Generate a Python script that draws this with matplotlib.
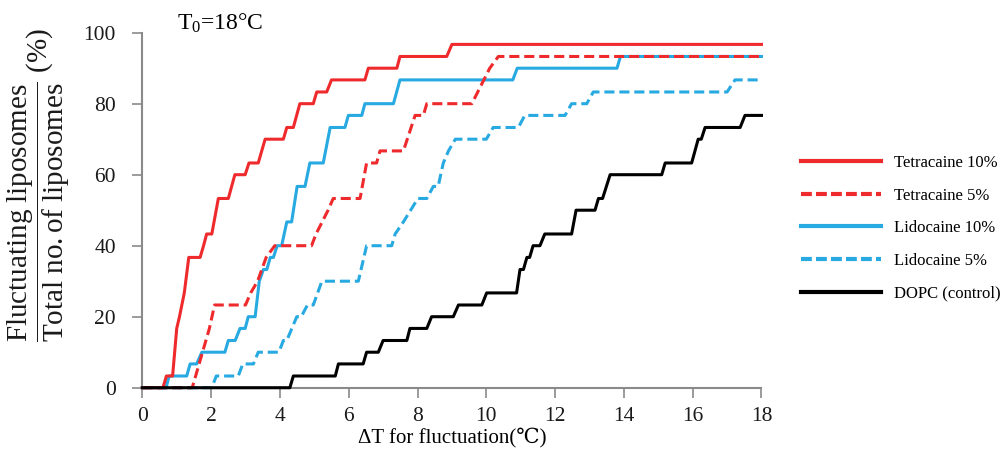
import matplotlib
matplotlib.use('Agg')
import matplotlib.pyplot as plt
from matplotlib.lines import Line2D

plt.rcParams['font.family'] = ['Liberation Serif', 'DejaVu Serif']
plt.rcParams['mathtext.fontset'] = 'custom'
plt.rcParams['mathtext.rm'] = 'Liberation Serif'
plt.rcParams['mathtext.it'] = 'Liberation Serif:italic'

# Cumulative share of fluctuating liposomes (%) vs dT (C), corner points
tet10_x = [0, 0.6, 0.7, 0.88, 1.0, 1.08, 1.22, 1.35, 1.68, 1.78, 1.87, 2.02, 2.21, 2.5, 2.69, 2.99, 3.1,
           3.37, 3.57, 4.1, 4.2, 4.39, 4.58, 4.97, 5.07, 5.36, 5.5, 6.47, 6.57, 7.4, 7.49, 8.85, 9.0, 18]
tet10_y = [0, 0, 3.3, 3.3, 16.7, 20, 26.7, 36.7, 36.7, 40, 43.3, 43.3, 53.3, 53.3, 60, 60, 63.3,
           63.3, 70, 70, 73.3, 73.3, 80, 80, 83.3, 83.3, 86.7, 86.7, 90, 90, 93.3, 93.3, 96.7, 96.7]

tet5_x = [0, 1.45, 1.55, 1.75, 1.95, 2.1, 3.0, 3.15, 3.35, 3.6, 3.85, 4.92, 5.05, 5.4, 5.55, 6.33, 6.52,
          6.81, 6.91, 7.59, 7.93, 8.17, 8.27, 9.58, 10.1, 10.35, 18]
tet5_y = [0, 0, 3.3, 10, 16.7, 23.3, 23.3, 26.7, 30, 36.7, 40, 40, 43.3, 50, 53.3, 53.3, 63.3,
          63.3, 66.7, 66.7, 76.7, 76.7, 80, 80, 90, 93.3, 93.3]

lido10_x = [0, 0.69, 0.78, 1.29, 1.39, 1.58, 1.73, 2.4, 2.5, 2.7, 2.84, 2.99, 3.08, 3.28, 3.4, 3.52, 3.62,
            3.72, 3.81, 3.92, 4.05, 4.2, 4.34, 4.5, 4.73, 4.87, 5.26, 5.46, 5.89, 5.99, 6.38, 6.47, 7.3,
            7.49, 10.77, 10.9, 13.8, 13.9, 18]
lido10_y = [0, 0, 3.3, 3.3, 6.7, 6.7, 10, 10, 13.3, 13.3, 16.7, 16.7, 20, 20, 30, 33.3, 33.3,
            36.7, 36.7, 40, 40, 46.7, 46.7, 56.7, 56.7, 63.3, 63.3, 73.3, 73.3, 76.7, 76.7, 80, 80,
            86.7, 86.7, 90, 90, 93.3, 93.3]

lido5_x = [0, 2.02, 2.15, 2.79, 2.92, 3.23, 3.37, 3.97, 4.1, 4.2, 4.49, 4.62, 4.8, 4.97, 5.22, 6.28, 6.52,
           7.25, 7.35, 7.59, 8.01, 8.27, 8.46, 8.6, 8.75, 8.9, 9.1, 10.0, 10.2, 10.93, 11.12, 12.29, 12.48,
           12.92, 13.11, 17.0, 17.23, 18]
lido5_y = [0, 0, 3.3, 3.3, 6.7, 6.7, 10, 10, 13.3, 13.3, 20, 20, 23.3, 23.3, 30, 30, 40,
           40, 43.3, 46.7, 53.3, 53.3, 56.7, 56.7, 63.3, 66.7, 70, 70, 73.3, 73.3, 76.7, 76.7, 80,
           80, 83.3, 83.3, 86.7, 86.7]

dopc_x = [0, 4.29, 4.39, 5.61, 5.7, 6.42, 6.52, 6.86, 7.0, 7.69, 7.78, 8.27, 8.41, 9.04, 9.19, 9.87, 10.01,
          10.88, 10.98, 11.08, 11.18, 11.26, 11.36, 11.56, 11.7, 12.48, 12.61, 13.16, 13.26, 13.38, 13.6,
          15.1, 15.2, 15.97, 16.16, 16.25, 16.36, 17.38, 17.52, 18]
dopc_y = [0, 0, 3.3, 3.3, 6.7, 6.7, 10, 10, 13.3, 13.3, 16.7, 16.7, 20, 20, 23.3, 23.3, 26.7,
          26.7, 33.3, 33.3, 36.7, 36.7, 40, 40, 43.3, 43.3, 50, 50, 53.3, 53.3, 60,
          60, 63.3, 63.3, 70, 70, 73.3, 73.3, 76.7, 76.7]

labels = ['Tetracaine 10%', 'Tetracaine 5%', 'Lidocaine 10%', 'Lidocaine 5%', 'DOPC (control)']
red = '#EE2A2C'
blue = '#27A9E1'
gray = '#8A8A8A'

fig = plt.figure(figsize=(10.03, 4.54), dpi=100)
ax = fig.add_axes([0.1419, 0.146, 0.6173, 0.782])

lw = 2.2
dash = (3.3, 1.6)
ax.plot(lido5_x, lido5_y, color=blue, lw=lw, ls=(0, dash), clip_on=False)
ax.plot(lido10_x, lido10_y, color=blue, lw=lw, clip_on=False)
ax.plot(tet5_x, tet5_y, color=red, lw=lw, ls=(0, dash), clip_on=False)
ax.plot(tet10_x, tet10_y, color=red, lw=lw, clip_on=False)
ax.plot(dopc_x, dopc_y, color='black', lw=lw, clip_on=False, zorder=3)

ax.set_xlim(0, 18)
ax.set_ylim(0, 100)
ax.set_xticks(range(0, 19, 2))
ax.set_yticks(range(0, 101, 20))
for s in ['top', 'right']:
    ax.spines[s].set_visible(False)
for s in ['left', 'bottom']:
    ax.spines[s].set_color(gray)
    ax.spines[s].set_linewidth(1.5)
ax.tick_params(direction='out', length=7, width=1.2, color=gray, labelsize=15.5, labelcolor='#1a1a1a')
ax.tick_params(axis='y', pad=12)
ax.tick_params(axis='x', pad=7)

ax.set_xlabel('ΔT for fluctuation(℃)', fontsize=15, labelpad=1)
fig.text(0.0384, 0.592,
         r'$\dfrac{\mathrm{Fluctuating\ liposomes}}{\mathrm{Total\ no.of\ liposomes}}$ (%)',
         rotation=90, ha='center', va='center', fontsize=21, color='#1a1a1a')
ax.text(0.056, 1.008, r'T$_0$=18°C', transform=ax.transAxes, fontsize=17, va='baseline')

handles = [Line2D([], [], color=red, lw=3),
           Line2D([], [], color=red, lw=3, ls=(0, (2.6, 1.0))),
           Line2D([], [], color=blue, lw=3),
           Line2D([], [], color=blue, lw=3, ls=(0, (2.6, 1.0))),
           Line2D([], [], color='black', lw=3)]
fig.legend(handles, labels, loc='upper left', bbox_to_anchor=(0.790, 0.677), frameon=False,
           fontsize=12, handlelength=4.8, handletextpad=0.8, labelspacing=1.0, borderpad=0)

fig.savefig('out.png', dpi=100)
